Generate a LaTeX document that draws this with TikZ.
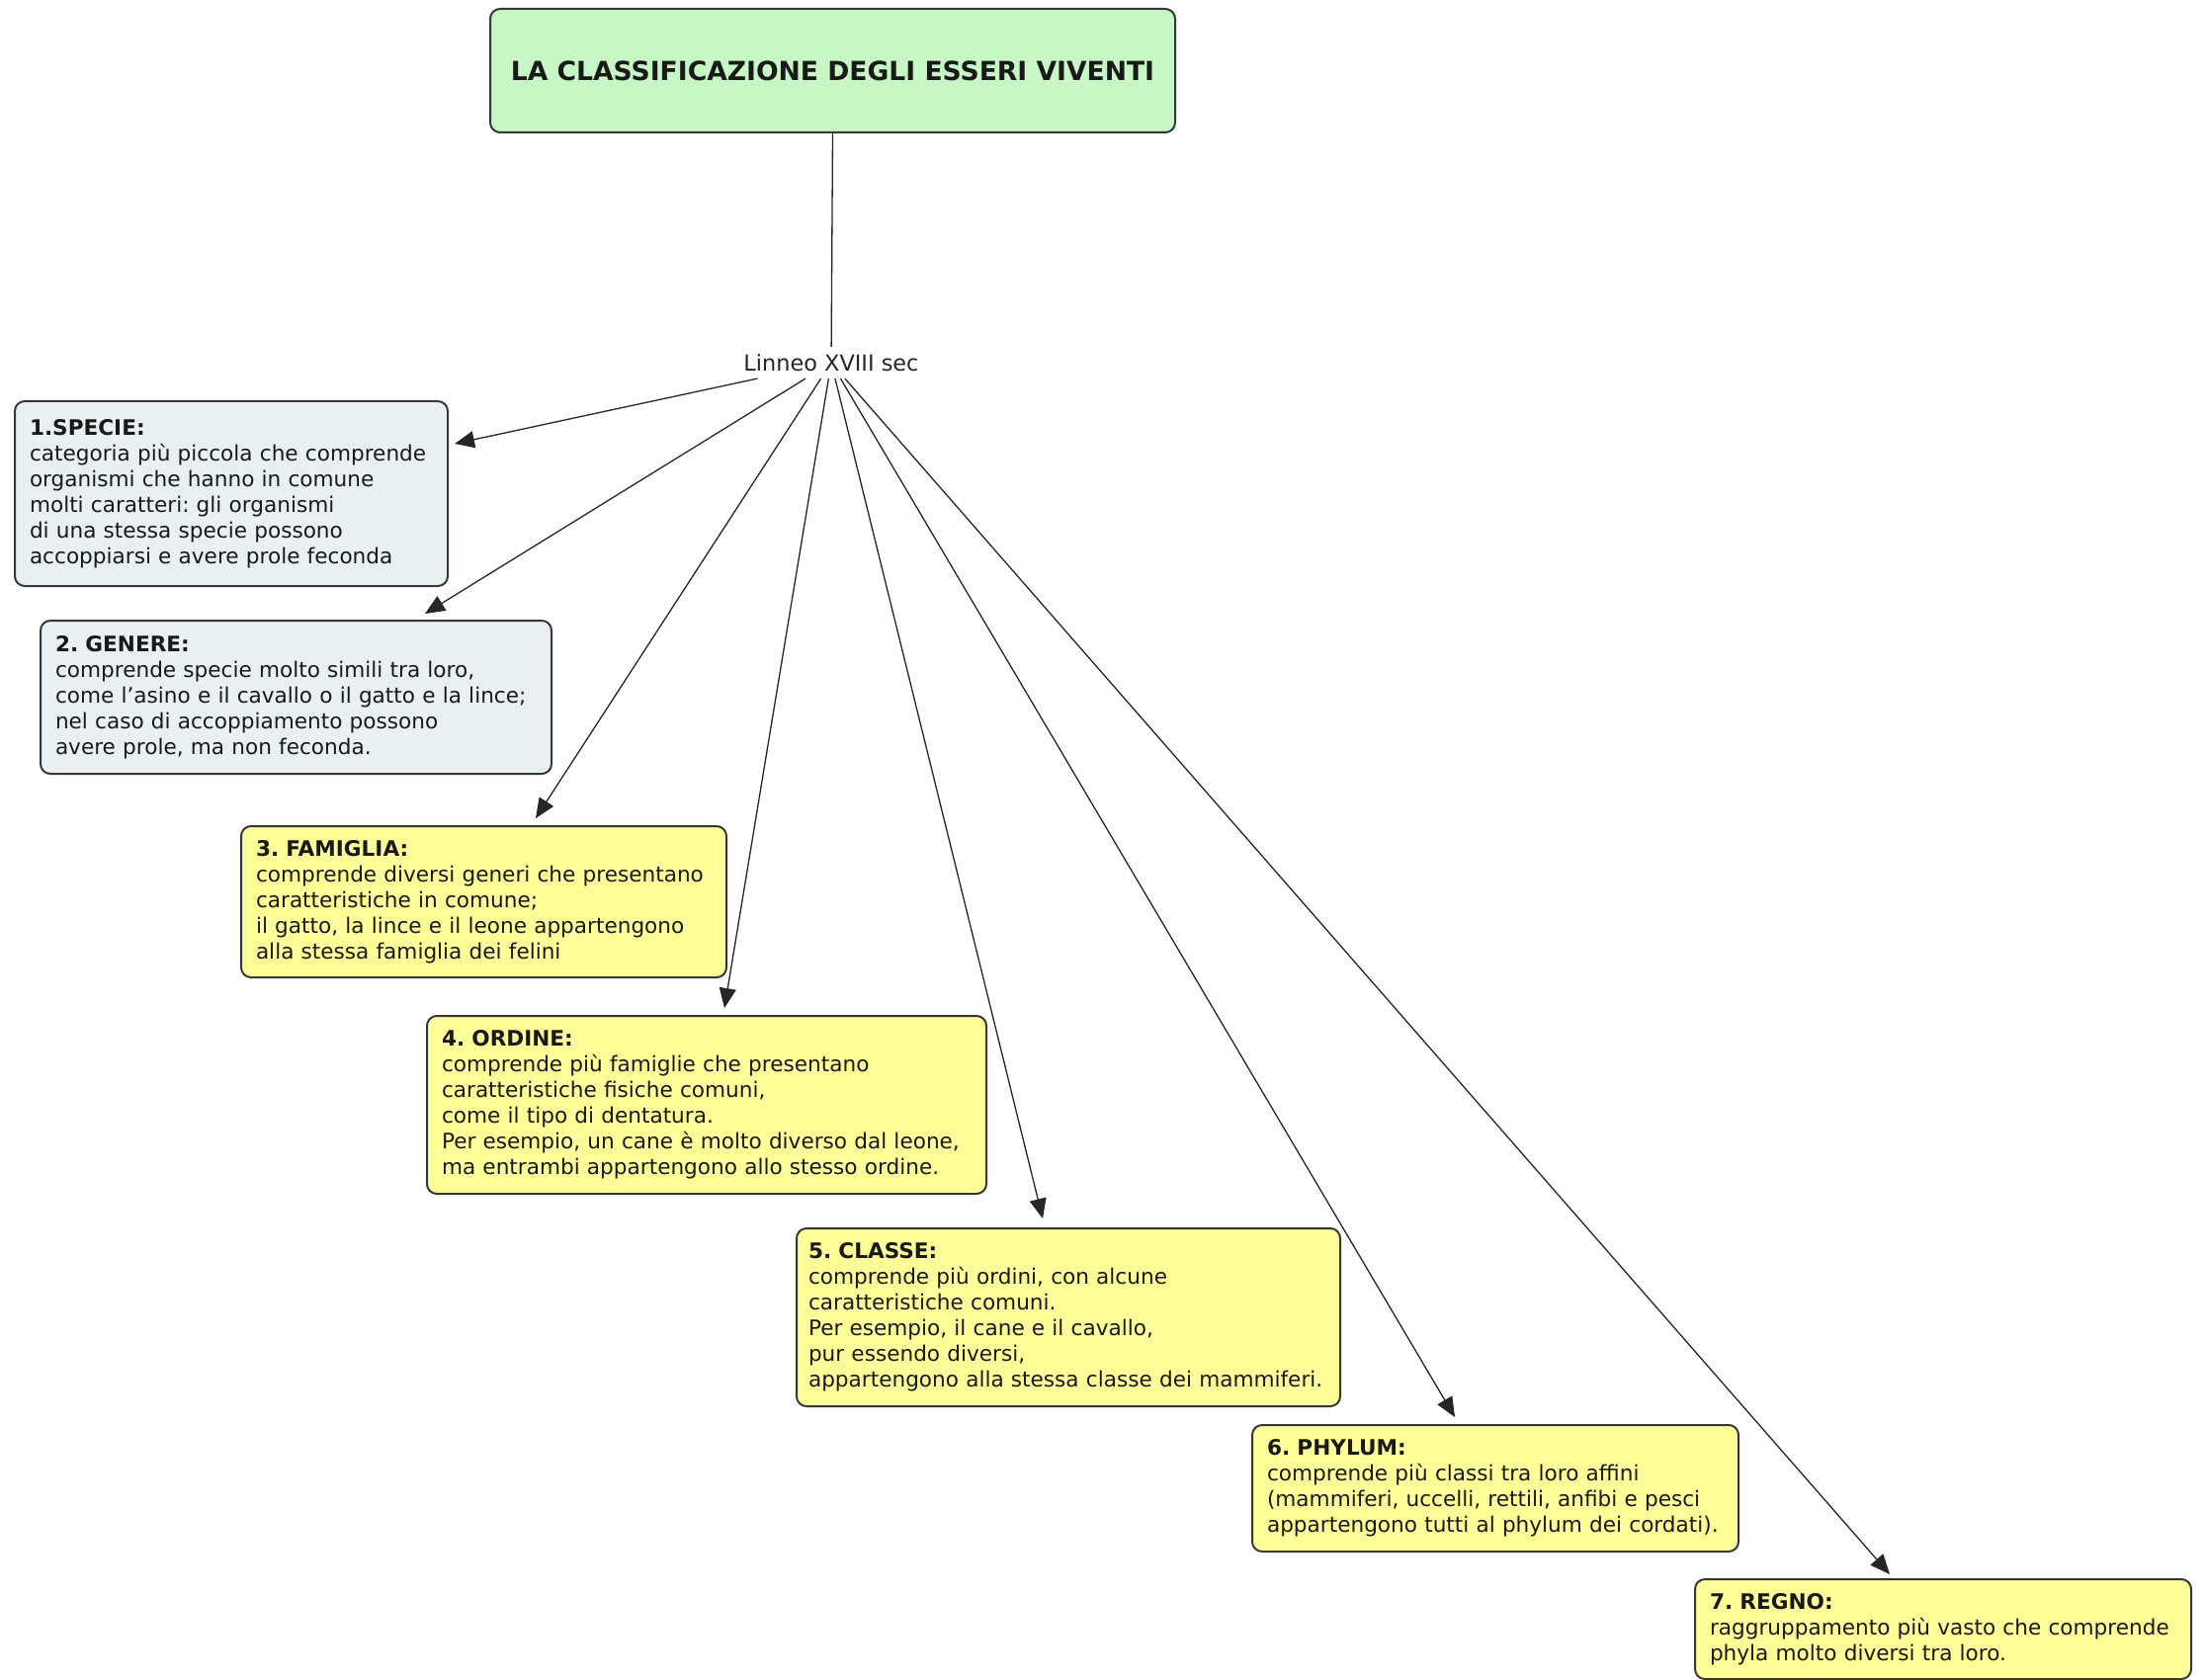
\documentclass[tikz,border=0pt]{standalone}
\usepackage{fontspec}
\setmainfont{DejaVu Sans}
\usetikzlibrary{arrows.meta,calc}
\definecolor{titlegreen}{RGB}{198,247,196}
\definecolor{bluegray}{RGB}{233,240,243}
\definecolor{boxyellow}{RGB}{255,255,153}
\definecolor{edgegray}{RGB}{55,55,55}
\begin{document}
\frenchspacing
\hyphenpenalty=10000
\exhyphenpenalty=10000
\begin{tikzpicture}[x=0.5pt,y=-0.5pt,
  box/.style={draw=edgegray, line width=1pt, rounded corners=5pt, anchor=north west,
    align=left, inner xsep=7.5pt, inner ysep=4pt, text=black!90,
    font=\fontsize{10.8}{13}\selectfont},
  conn/.style={draw=black!85, line width=0.65pt, -{Triangle[length=10pt,width=8.5pt]}},
  plain/.style={draw=black!85, line width=0.65pt}]
\useasboundingbox (0,0) rectangle (2230,1700);
\fill[white] (0,0) rectangle (2230,1700);

\node[draw=edgegray, line width=1pt, fill=titlegreen, rounded corners=5pt,
  minimum width=346.5pt, minimum height=62.5pt, text=black!90,
  font=\bfseries\fontsize{13.3}{16}\selectfont] (title) at (842.5,71.5)
  {LA CLASSIFICAZIONE DEGLI ESSERI VIVENTI};

\node[inner xsep=2pt, inner ysep=3.5pt, text=black!85, font=\fontsize{11.2}{13}\selectfont]
  (lin) at (841,367) {Linneo XVIII sec};

\node[box, fill=bluegray, text width=204pt, minimum height=93.5pt] (b1) at (14,405)
  {\textbf{1.SPECIE:}\\categoria più piccola che comprende\\organismi che hanno in comune\\molti caratteri: gli organismi\\di una stessa specie possono\\accoppiarsi e avere prole feconda};

\node[box, fill=bluegray, text width=243.5pt, minimum height=77.5pt] (b2) at (40,627)
  {\textbf{2. GENERE:}\\comprende specie molto simili tra loro,\\come l’asino e il cavallo o il gatto e la lince;\\nel caso di accoppiamento possono\\avere prole, ma non feconda.};

\node[box, fill=boxyellow, text width=230.5pt, minimum height=76.5pt] (b3) at (243,835)
  {\textbf{3. FAMIGLIA:}\\comprende diversi generi che presentano\\caratteristiche in comune;\\il gatto, la lince e il leone appartengono\\alla stessa famiglia dei felini};

\node[box, fill=boxyellow, text width=268pt, minimum height=90pt] (b4) at (431,1027)
  {\textbf{4. ORDINE:}\\comprende più famiglie che presentano\\caratteristiche fisiche comuni,\\come il tipo di dentatura.\\Per esempio, un cane è molto diverso dal leone,\\ma entrambi appartengono allo stesso ordine.};

\node[box, fill=boxyellow, inner xsep=6pt, text width=263pt, minimum height=90pt] (b5) at (805,1242)
  {\textbf{5. CLASSE:}\\comprende più ordini, con alcune\\caratteristiche comuni.\\Per esempio, il cane e il cavallo,\\pur essendo diversi,\\appartengono alla stessa classe dei mammiferi.};

\node[box, fill=boxyellow, text width=231pt, minimum height=64pt] (b6) at (1266,1441)
  {\textbf{6. PHYLUM:}\\comprende più classi tra loro affini\\(mammiferi, uccelli, rettili, anfibi e pesci\\appartengono tutti al phylum dei cordati).};

\node[box, fill=boxyellow, text width=236pt, minimum height=50.5pt] (b7) at (1714,1597)
  {\textbf{7. REGNO:}\\raggruppamento più vasto che comprende\\phyla molto diversi tra loro.};

\draw[plain] (title.south) -- (lin);
\draw[conn] (lin) -- ($(b1.north east)+(6,44)$);
\draw[conn] (lin) -- ($(b2.north west)+(390,-6)$);
\draw[conn] (lin) -- ($(b3.north west)+(299,-7)$);
\draw[conn] (lin) -- ($(b4.north west)+(302,-7)$);
\draw[conn] (lin) -- ($(b5.north west)+(250,-9)$);
\draw[conn] (lin) -- ($(b6.north west)+(206,-7)$);
\draw[conn] (lin) -- ($(b7.north west)+(198,-4)$);
\end{tikzpicture}
\end{document}
